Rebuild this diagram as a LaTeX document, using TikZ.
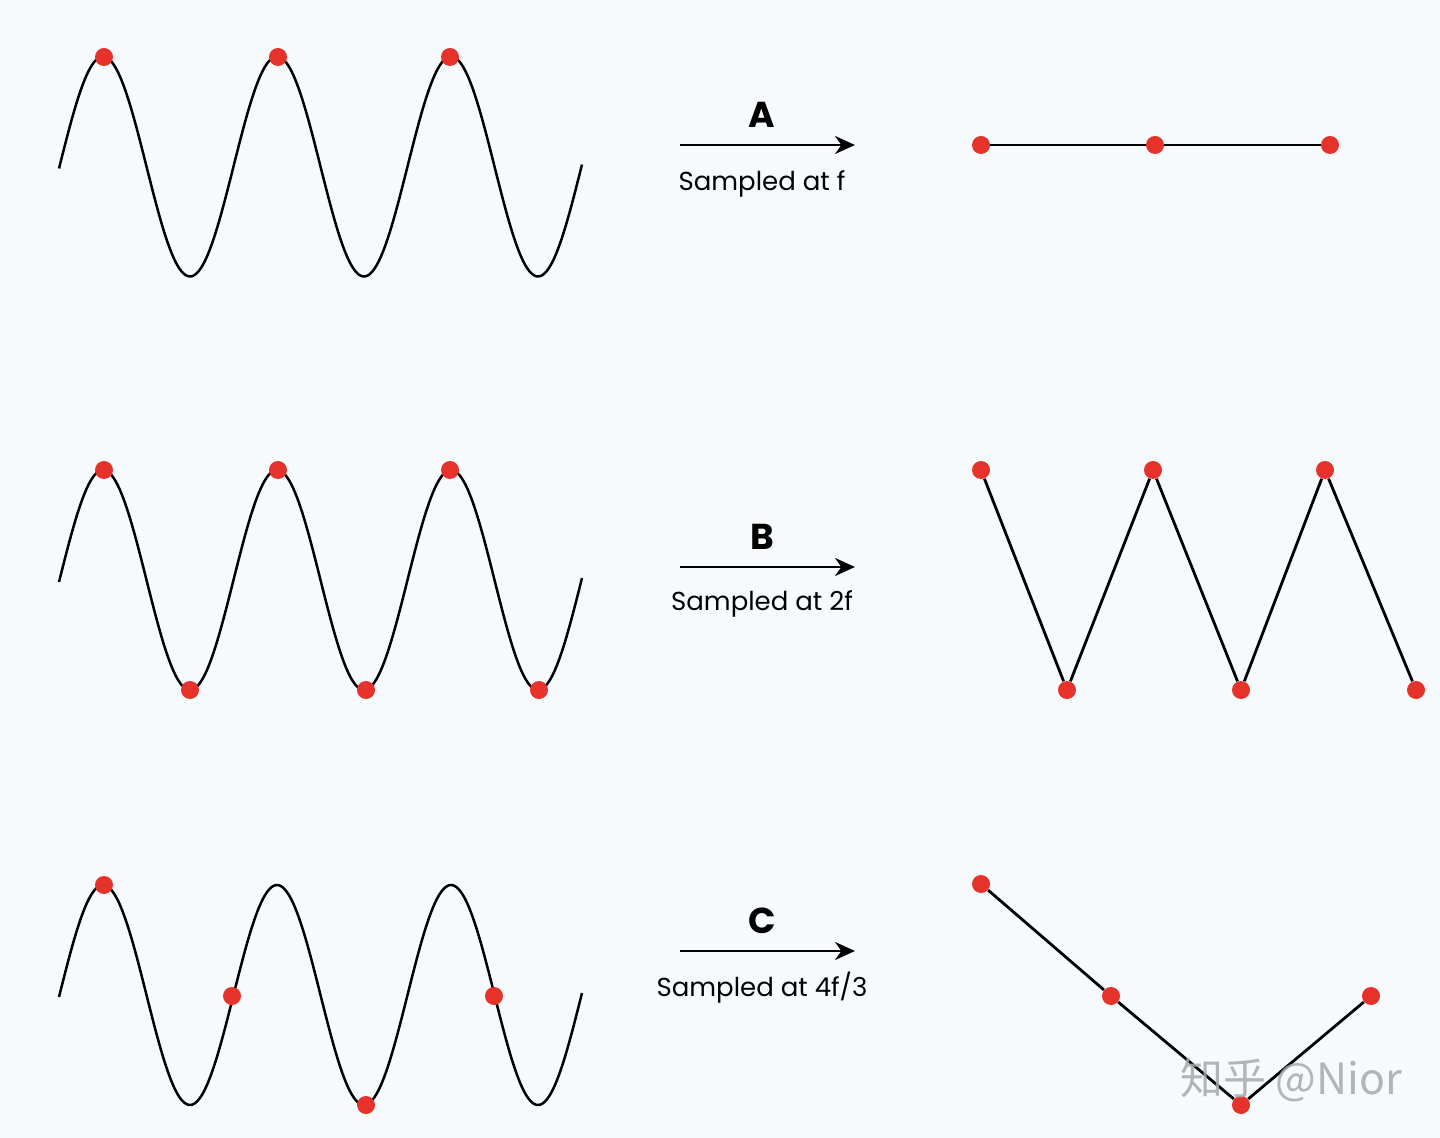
\documentclass[tikz,border=0pt]{standalone}
\usepackage{fontspec}
\setmainfont{Poppins}
\newfontfamily\cjk{Noto Sans CJK SC}
\usetikzlibrary{arrows.meta}
\definecolor{bgcol}{HTML}{F7FAFD}
\definecolor{dotred}{HTML}{E5322B}
\definecolor{wmgray}{HTML}{A8A8A8}
\tikzset{
  wave/.style={line width=1.25pt, black, line join=round},
  seg/.style={line width=1.4pt, black},
  dot/.style={circle, fill=dotred, draw=none, inner sep=0pt, minimum size=9pt},
  arr/.style={line width=1.25pt, -{Stealth[length=10pt,width=9pt]}},
  big/.style={font=\fontsize{18}{20}\selectfont\bfseries, inner sep=0pt},
  sub/.style={font=\fontsize{13}{15}\selectfont, inner sep=0pt},
  wm/.style={font=\cjk\fontsize{21.5}{23}\selectfont, text=wmgray, inner sep=0pt, opacity=0.85}
}
\begin{document}
\begin{tikzpicture}[x=0.5pt,y=-0.5pt]
\fill[bgcol] (0,0) rectangle (1440,1138);
\useasboundingbox (0,0) rectangle (1440,1138);

% ---------- Row A ----------
\draw[wave] plot[domain=59:582, samples=240, smooth] (\x, {166.5 - 110*cos(((\x-103)/174)*360)});
\node[dot] (a1) at (104,57) {};
\node[dot] (a2) at (278,57) {};
\node[dot] (a3) at (450,57) {};
\coordinate (as) at (680,145);
\coordinate (ae) at (855,145);
\draw[arr] (as) -- (ae);
\node[big] (la) at (762,115) {A};
\node[sub] (sa) at (762,184) {Sampled at f};
\node[dot] (ra1) at (981,145) {};
\node[dot] (ra2) at (1155,145) {};
\node[dot] (ra3) at (1330,145) {};
\draw[seg] (ra1) -- (ra2);
\draw[seg] (ra2) -- (ra3);

% ---------- Row B ----------
\draw[wave] plot[domain=59:582, samples=240, smooth] (\x, {580 - 110*cos(((\x-103)/174)*360)});
\node[dot] (b1) at (104,470) {};
\node[dot] (b2) at (190,690) {};
\node[dot] (b3) at (278,470) {};
\node[dot] (b4) at (366,690) {};
\node[dot] (b5) at (450,470) {};
\node[dot] (b6) at (539,690) {};
\coordinate (bs) at (680,567);
\coordinate (be) at (855,567);
\draw[arr] (bs) -- (be);
\node[big] (lb) at (762,537) {B};
\node[sub] (sb) at (762,604) {Sampled at 2f};
\node[dot] (rb1) at (981,470) {};
\node[dot] (rb2) at (1067,690) {};
\node[dot] (rb3) at (1153,470) {};
\node[dot] (rb4) at (1241,690) {};
\node[dot] (rb5) at (1325,470) {};
\node[dot] (rb6) at (1416,690) {};
\draw[seg] (rb1) -- (rb2);
\draw[seg] (rb2) -- (rb3);
\draw[seg] (rb3) -- (rb4);
\draw[seg] (rb4) -- (rb5);
\draw[seg] (rb5) -- (rb6);

% ---------- Row C ----------
\draw[wave] plot[domain=59:582, samples=240, smooth] (\x, {995 - 110*cos(((\x-103)/174)*360)});
\node[dot] (c1) at (104,885) {};
\node[dot] (c2) at (232,996) {};
\node[dot] (c3) at (366,1105) {};
\node[dot] (c4) at (494,996) {};
\coordinate (cs) at (680,951);
\coordinate (ce) at (855,951);
\draw[arr] (cs) -- (ce);
\node[big] (lc) at (762,921) {C};
\node[sub] (sc) at (762,988) {Sampled at 4f/3};
\node[dot] (rc1) at (981,884) {};
\node[dot] (rc2) at (1111,996) {};
\node[dot] (rc3) at (1241,1105) {};
\node[dot] (rc4) at (1371,996) {};
\draw[seg] (rc1) -- (rc2);
\draw[seg] (rc2) -- (rc3);
\draw[seg] (rc3) -- (rc4);

% watermark
\node[wm] (wmk) at (1291,1080) {知乎 @Nior};
\end{tikzpicture}
\end{document}
